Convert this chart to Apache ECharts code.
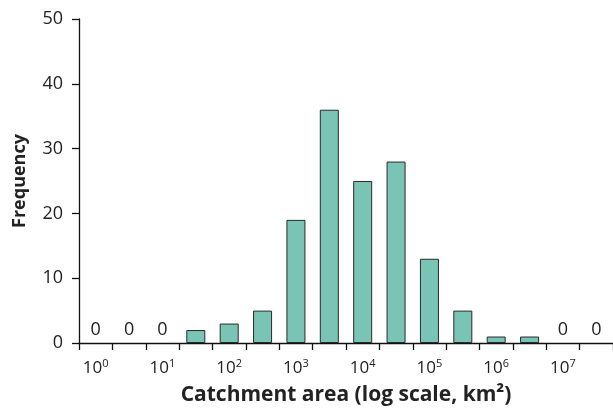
<!DOCTYPE html>
<html>
<head>
<meta charset="utf-8">
<script src="https://cdn.jsdelivr.net/npm/echarts@6/dist/echarts.min.js"></script>
<style>html,body{margin:0;padding:0;background:#fff;}#c{width:613px;height:412px;}</style>
</head>
<body>
<div id="c"></div>
<script>
// Bins in half-decade steps (log10 of catchment area, km²)
const binExponents = ['0','0.5','1','1.5','2','2.5','3','3.5','4','4.5','5','5.5','6','6.5','7','7.5'];
const frequency = [0, 0, 0, 2, 3, 5, 19, 36, 25, 28, 13, 5, 1, 1, 0, 0];
const yTicks = [0, 10, 20, 30, 40, 50];

const FONT = 'Open Sans';
const barData = frequency.map(function (v) {
  return v === 0
    ? {value: v, itemStyle: {borderWidth: 0, color: 'rgba(0,0,0,0)'}, label: {show: true}}
    : {value: v};
});

const chart = echarts.init(document.getElementById('c'), null, {renderer: 'canvas'});
chart.setOption({
  animation: false,
  textStyle: {fontFamily: FONT},
  grid: {left: 79, right: 0, top: 19, bottom: 69, containLabel: false},
  xAxis: {
    type: 'category',
    data: binExponents,
    boundaryGap: true,
    axisLine: {lineStyle: {color: '#111', width: 1.3}},
    axisTick: {show: true, interval: 0, length: 7, lineStyle: {color: '#111', width: 1.3}},
    axisLabel: {
      interval: 0,
      margin: 15,
      formatter: function (v) {
        return (Number(v) % 1 === 0) ? '{b|10}{s|' + v + '}' : '';
      },
      rich: {
        b: {fontSize: 17, color: '#222', fontFamily: FONT},
        s: {fontSize: 11, color: '#222', fontFamily: FONT, verticalAlign: 'top', padding: [0, 0, 9, 0]}
      }
    },
    name: 'Catchment area (log scale, km²)',
    nameLocation: 'middle',
    nameGap: 42,
    nameTextStyle: {fontSize: 21, fontWeight: 'bold', color: '#222', fontFamily: FONT}
  },
  yAxis: {
    type: 'value',
    min: yTicks[0],
    max: yTicks[yTicks.length - 1],
    interval: 10,
    splitLine: {show: false},
    axisLine: {show: true, lineStyle: {color: '#111', width: 1.3}},
    axisTick: {show: true, length: 7, lineStyle: {color: '#111', width: 1.3}},
    axisLabel: {margin: 16, fontSize: 18, color: '#222', fontFamily: FONT},
    name: 'Frequency',
    nameLocation: 'middle',
    nameGap: 50,
    nameTextStyle: {fontSize: 18, fontWeight: 'bold', color: '#222', fontFamily: FONT}
  },
  series: [{
    type: 'bar',
    data: barData,
    barCategoryGap: '43%',
    itemStyle: {color: '#79c4b5', borderColor: '#2a2a2a', borderWidth: 1},
    label: {
      show: false,
      position: 'top',
      distance: 4,
      fontSize: 18,
      color: '#222',
      fontFamily: FONT,
      formatter: function (p) { return String(p.value); }
    }
  }]
});
</script>
</body>
</html>
